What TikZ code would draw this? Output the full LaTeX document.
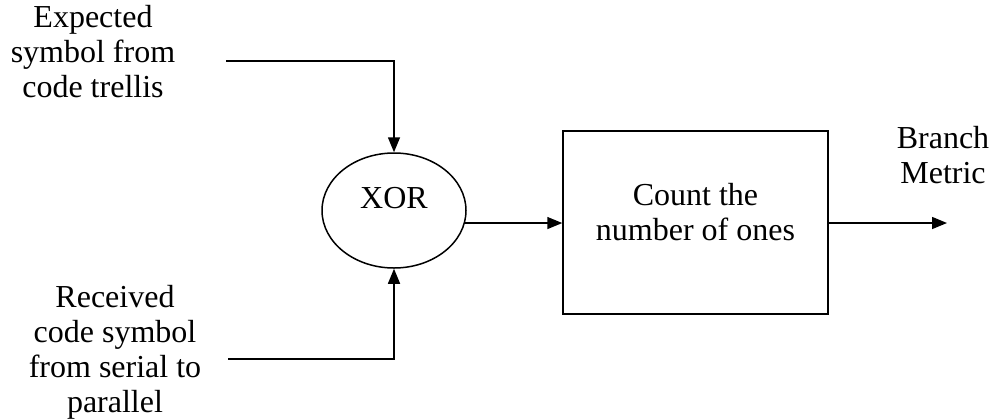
\documentclass[tikz,border=0pt]{standalone}
\usepackage{fontspec}
\setmainfont{Liberation Serif}
\usetikzlibrary{shapes.geometric,arrows.meta}
\begin{document}
\begin{tikzpicture}[x=1pt,y=-1pt,
  txt/.style={font=\fontsize{32}{35}\selectfont, align=center, inner sep=0pt},
  conn/.style={line width=1.5pt, -{Triangle[length=15pt,width=12pt]}},
  shapeline/.style={draw, line width=1.5pt, inner sep=0pt}]
\useasboundingbox[fill=white] (0,0) rectangle (995,418);
\node[shapeline, ellipse, minimum width=144pt, minimum height=115pt] (xor) at (394,210.5) {};
\node[txt] (xort) at (394,198) {XOR};
\node[shapeline, rectangle, minimum width=265pt, minimum height=183pt] (box) at (695.5,222.5) {};
\node[txt] (boxt) at (695.5,212.5) {Count the\\number of ones};
\node[txt] (intop) at (93,52) {Expected\\symbol from\\code trellis};
\node[txt] (inbot) at (115,352.5) {Received\\code symbol\\from serial to\\parallel};
\node[txt] (outl) at (943,155.5) {Branch\\Metric};
\coordinate (in1) at (226,61);
\coordinate (in2) at (228,359);
\coordinate (out) at (947,223);
\draw[conn] (in1) -| (xor.north);
\draw[conn] (in2) -| (xor.south);
\draw[conn] (xor.-10) -- (xor.-10 -| box.west);
\draw[conn] (box.east |- out) -- (out);
\end{tikzpicture}
\end{document}
